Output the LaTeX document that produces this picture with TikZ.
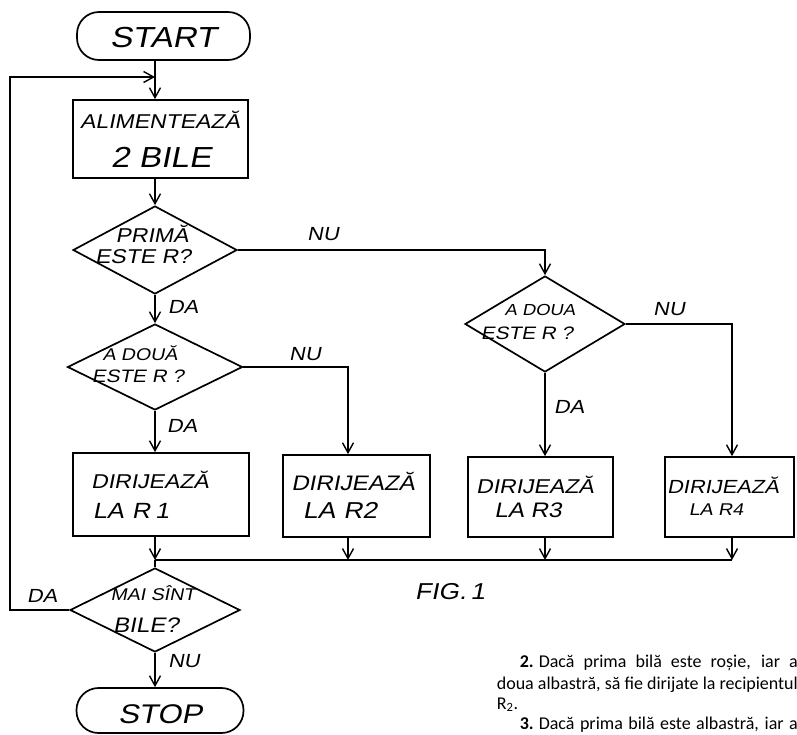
\documentclass[tikz,border=0pt]{standalone}
\usepackage{fontspec}
\usetikzlibrary{arrows.meta,shapes.geometric,calc}
\newfontfamily\hand{Liberation Sans}[FakeSlant=0.2,FakeStretch=1.15]
\newfontfamily\bodyfont{Carlito}
\newcommand\hsz[1]{\fontsize{#1}{#1}\selectfont}
\begin{document}
\begin{tikzpicture}[x=1pt,y=-1pt,line width=1.7pt,
  arr/.style={-{Straight Barb[length=10pt,width=11pt,line width=1.4pt]}},
  box/.style={draw,rectangle,inner sep=0pt},
  term/.style={draw,rectangle,rounded corners=22pt,inner sep=0pt},
  dia/.style={draw,diamond,inner sep=0pt},
  txt/.style={font=\hand,inner sep=0pt,anchor=base},
  lbl/.style={font=\hand\hsz{19},inner sep=0pt,anchor=base},
  body/.style={font=\bodyfont\hsz{18},inner sep=0pt,anchor=base west}]
\useasboundingbox (0,0) rectangle (797,734);
\coordinate (col) at (155,0);
\coordinate (c2) at (348,0);
\coordinate (c4) at (732,0);
% shapes
\node[term,minimum width=173pt,minimum height=48pt] (start) at (163.5,36) {};
\node[box,minimum width=175pt,minimum height=78pt] (b0) at (160.5,139) {};
\node[dia,minimum width=164pt,minimum height=88pt] (d1) at (155,250) {};
\node[dia,minimum width=175pt,minimum height=86pt] (d2) at (155,367) {};
\node[dia,minimum width=160pt,minimum height=96pt] (d3) at (545,324) {};
\node[box,minimum width=176pt,minimum height=83pt] (r1) at (161,494.5) {};
\node[box,minimum width=147pt,minimum height=82pt] (r2) at (356.5,496) {};
\node[box,minimum width=145pt,minimum height=80pt] (r3) at (540.5,497) {};
\node[box,minimum width=129pt,minimum height=80pt] (r4) at (729.5,497) {};
\node[dia,minimum width=170pt,minimum height=84pt] (d4) at (155,610) {};
\node[term,minimum width=167pt,minimum height=45pt] (stop) at (160,710.5) {};
% texts
\node[txt] (startt) at (163,47) {\hsz{29}START};
\node[txt] (b0t1) at (160,128) {\hsz{20}ALIMENTEAZĂ};
\node[txt] (b0t2) at (161,167) {\hsz{29}2 BILE};
\node[txt] (d1t1) at (152,242) {\hsz{20}PRIMĂ};
\node[txt] (d1t2) at (143,263) {\hsz{20}ESTE R?};
\node[txt] (d2t1) at (140,360) {\hsz{17}A DOUĂ};
\node[txt] (d2t2) at (138,382) {\hsz{18}ESTE R ?};
\node[txt] (d3t1) at (540,315) {\hsz{16}A DOUA};
\node[txt] (d3t2) at (527,339) {\hsz{18}ESTE R ?};
\node[txt] (d4t1) at (153,600) {\hsz{17}MAI SÎNT};
\node[txt] (d4t2) at (146,632) {\hsz{21}BILE?};
\node[txt] (r1t1) at (150,488) {\hsz{20}DIRIJEAZĂ};
\node[txt] (r1t2) at (131,518) {\hsz{22}LA\hspace{8pt}R\hspace{5pt}1};
\node[txt] (r2t1) at (353,490) {\hsz{21}DIRIJEAZĂ};
\node[txt] (r2t2) at (340,518) {\hsz{23}LA\hspace{8pt}R2};
\node[txt] (r3t1) at (535,493) {\hsz{20}DIRIJEAZĂ};
\node[txt] (r3t2) at (528,517) {\hsz{21}LA R3};
\node[txt] (r4t1) at (723,493) {\hsz{19}DIRIJEAZĂ};
\node[txt] (r4t2) at (716,515) {\hsz{17}LA R4};
% labels
\node[lbl] (nu1) at (323,240) {NU};
\node[lbl] (da1) at (183,313) {DA};
\node[lbl] (nu2) at (305,360) {NU};
\node[lbl] (da2) at (182,432) {DA};
\node[lbl] (nu3) at (669,315) {NU};
\node[lbl] (da3) at (569,413) {DA};
\node[lbl] (da4) at (42,602) {DA};
\node[lbl] (nu4) at (184,667) {NU};
\node[txt] (fig) at (450,599) {\hsz{23}FIG.\hspace{4pt}1};
% connectors
\coordinate (fb) at (155,77);
\coordinate (lc) at (10,77);
\coordinate (m) at (155,560);
\coordinate (mr) at (732,560);
\draw[arr] (start.south -| col) -- (b0.north -| col);
\draw[arr] (d4.west) -| (lc) -- (fb);
\draw[arr] (b0.south -| col) -- (d1.north);
\draw[arr] (d1.south) -- (d2.north);
\draw[arr] (d1.east) -| (d3.north);
\draw[arr] (d2.south) -- (r1.north -| col);
\draw[arr] (d2.east) -| (r2.north -| c2);
\draw[arr] (d3.south) -- (r3.north -| d3.south);
\draw[arr] (d3.east) -| (r4.north -| c4);
\draw[arr] (r1.south -| col) -- (m);
\draw[arr] (r2.south -| c2) -- (m -| c2);
\draw[arr] (r3.south -| d3.south) -- (m -| d3.south);
\draw[arr] (r4.south -| c4) -- (mr);
\draw (m) -- (mr);
\draw (m) -- (d4.north);
\draw[arr] (d4.south) -- (stop.north -| d4.south);
\node[txt] (stopt) at (160,723) {\hsz{27}STOP};
% body text
\node[body] (p1) at (519,667) {\makebox[278pt][s]{\textbf{2.}\hspace{5pt}Dacă prima bilă este roșie, iar a}};
\node[body] (p2) at (496,689) {\makebox[301pt][s]{doua albastră, să fie dirijate la recipientul}};
\node[body] (p3) at (496,709) {R\textsubscript{2}.};
\node[body] (p4) at (519,729) {\makebox[278pt][s]{\textbf{3.}\hspace{5pt}Dacă prima bilă este albastră, iar a}};
\end{tikzpicture}
\end{document}
